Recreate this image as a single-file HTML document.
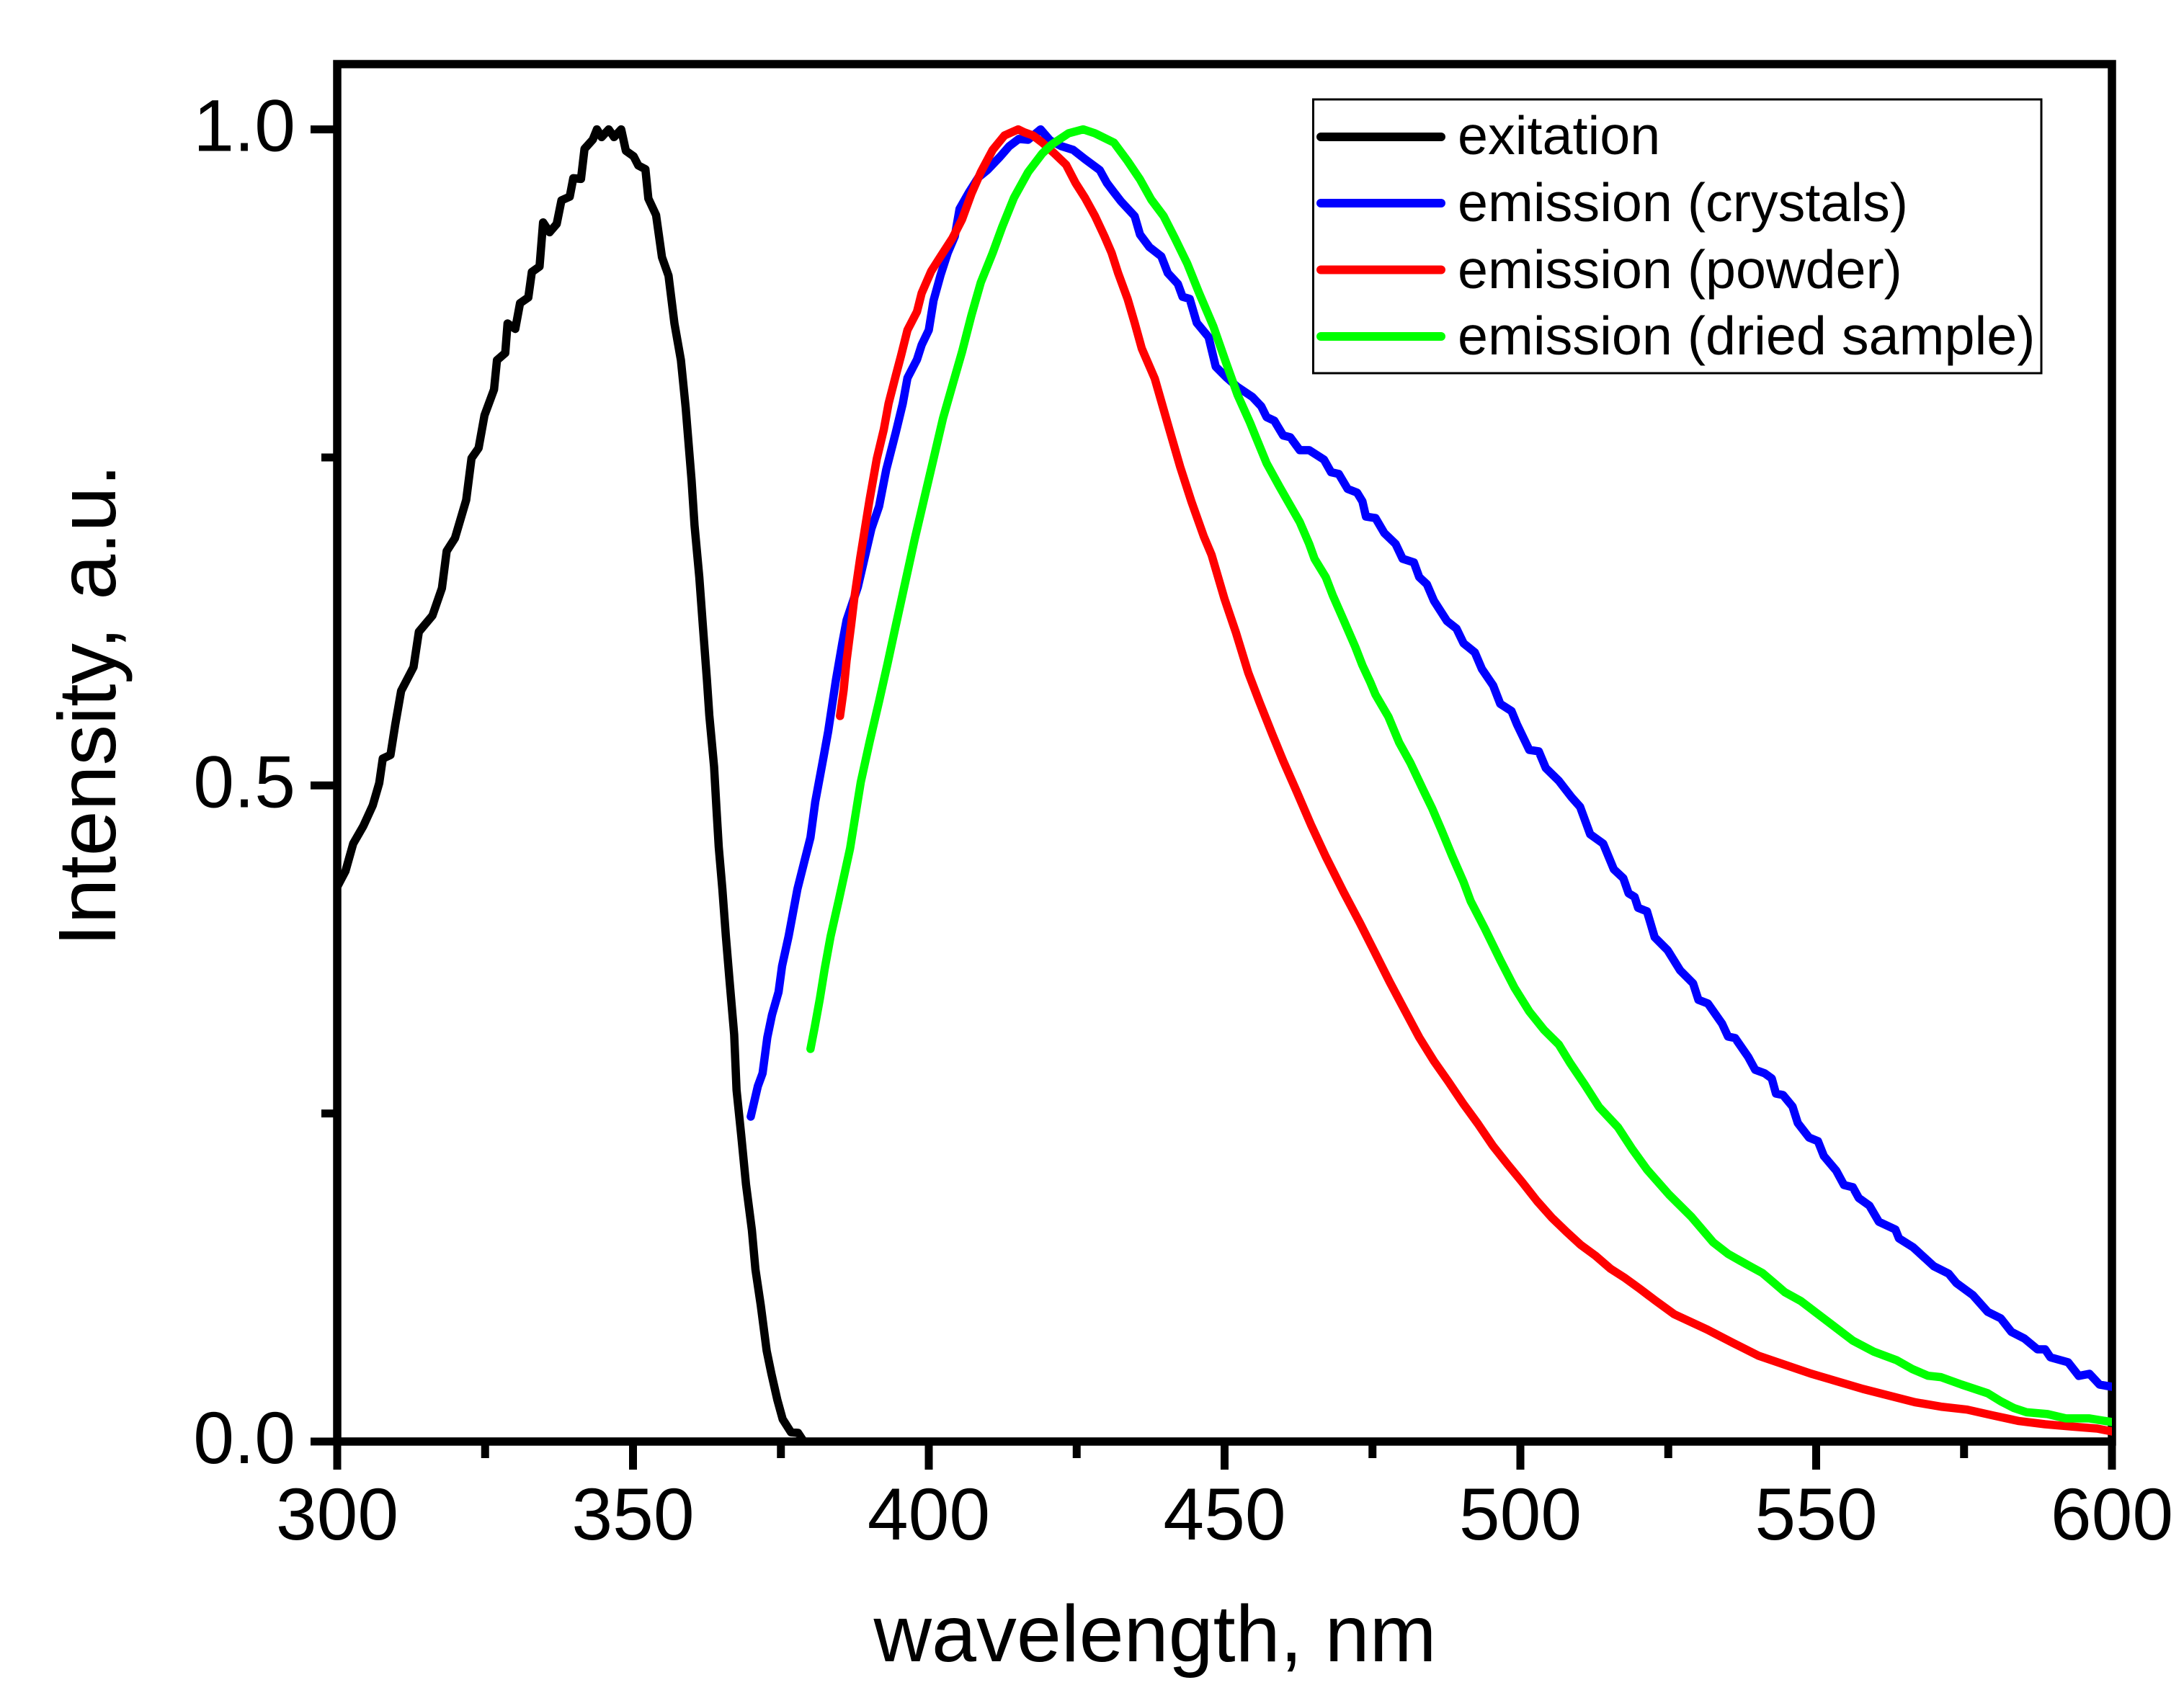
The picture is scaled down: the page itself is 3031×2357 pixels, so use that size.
<!DOCTYPE html>
<html>
<head>
<meta charset="utf-8">
<title>Excitation and emission spectra</title>
<style>
html,body{margin:0;padding:0;background:#fff;}
svg{display:block;}
text{font-family:"Liberation Sans",sans-serif;fill:#000;}
</style>
</head>
<body>
<svg id="chart" xmlns="http://www.w3.org/2000/svg" width="3031" height="2357" viewBox="0 0 3031 2357">
  <rect x="0" y="0" width="3031" height="2357" fill="#fff"/>
  <defs><clipPath id="plot-clip"><rect x="462" y="83" width="2469" height="1924"/></clipPath></defs>
  <g id="ticks"></g>
  <g id="tick-labels"></g>
  <rect x="468" y="89" width="2463" height="1912" fill="none" stroke="#000" stroke-width="11.5"/>
  <g id="series" clip-path="url(#plot-clip)"></g>
  <text font-size="113" word-spacing="6" text-anchor="middle" transform="translate(160 979) rotate(-90)">Intensity, a.u.</text>
  <text font-size="111.5" text-anchor="middle" x="1603" y="2306">wavelength, nm</text>
  <g>
    <rect x="1822.5" y="138" width="1010.5" height="380" fill="#fff" stroke="#000" stroke-width="3"/>
    <line x1="1833" x2="2000" y1="190" y2="190" stroke="#000" stroke-width="12" stroke-linecap="round"/>
    <line x1="1833" x2="2000" y1="282" y2="282" stroke="#0000ff" stroke-width="12" stroke-linecap="round"/>
    <line x1="1833" x2="2000" y1="374.5" y2="374.5" stroke="#ff0000" stroke-width="12" stroke-linecap="round"/>
    <line x1="1833" x2="2000" y1="467" y2="467" stroke="#00ff00" stroke-width="12" stroke-linecap="round"/>
    <text font-size="75.5" x="2023" y="214">exitation</text>
    <text font-size="75.5" x="2023" y="307">emission (crystals)</text>
    <text font-size="75.5" x="2023" y="400">emission (powder)</text>
    <text font-size="75.5" x="2023" y="492">emission (dried sample)</text>
  </g>
</svg>
<script>
const xMajorTicks = [300, 350, 400, 450, 500, 550, 600];
const xMinorTicks = [325, 375, 425, 475, 525, 575];
const yMajorTicks = [0, 0.5, 1];
const yMinorTicks = [0.25, 0.75];
const yTickText = ["0.0", "0.5", "1.0"];

const exitationWl = [300.1,301.4,302.7,304.4,306.0,307.1,307.7,309.0,309.8,310.8,312.9,313.8,316.1,317.7,318.5,319.9,321.8,322.7,323.9,324.9,326.5,327.0,328.4,328.8,330.1,330.9,332.3,332.9,334.2,334.8,335.9,337.1,337.9,339.3,339.9,341.2,341.8,343.2,343.9,344.7,345.9,346.8,348.0,348.8,350.1,350.9,352.1,352.6,353.9,354.9,356.0,357.0,358.1,358.9,359.9,360.4,361.2,361.8,362.5,362.9,363.7,364.1,364.5,365.1,365.7,366.3,367.1,367.5,368.3,369.1,370.1,370.7,371.6,372.6,373.4,374.4,375.3,376.7,377.9,378.8];
const exitationI = [.4236,.4348,.4557,.4689,.4848,.5018,.5205,.5232,.5463,.5721,.5902,.6171,.6295,.6503,.6786,.6885,.7176,.7494,.7571,.7821,.8017,.8241,.8296,.8521,.8479,.8675,.8719,.8913,.8955,.9291,.9216,.9279,.9459,.9487,.9628,.9622,.9852,.9922,1.0,.9941,1.0,.9941,1.0,.9837,.9795,.9725,.9697,.9473,.9347,.9026,.8885,.8521,.8241,.7879,.7324,.6981,.6588,.6220,.5803,.5534,.5144,.4826,.4530,.4211,.3849,.3525,.3102,.2679,.2333,.1960,.1611,.1312,.1038,.0692,.0516,.0318,.0170,.0071,.0066,.0005];

const crystalsWl = [369.9,371.1,371.9,372.7,373.5,374.6,375.2,376.3,377.8,378.9,380.0,380.8,382.2,383.0,384.3,385.4,386.1,388.0,390.3,391.6,392.8,394.4,395.6,396.4,398.0,398.8,400.0,400.8,402.0,403.2,404.4,405.2,406.8,408.4,409.9,412.0,413.6,415.2,416.8,418.9,420.5,422.4,424.4,426.4,428.9,430.1,431.3,432.5,434.8,435.7,437.3,439.3,440.4,442.1,442.9,444.1,445.3,447.3,448.5,450.3,452.1,454.7,456.2,457.1,458.4,459.9,461.1,462.7,464.3,466.8,468.0,469.3,470.8,472.4,473.3,473.9,475.5,477.0,478.9,480.1,482.0,482.9,484.2,485.4,487.6,489.2,490.4,492.3,493.5,495.4,496.6,498.5,499.4,501.5,503.1,504.3,506.5,508.7,510.1,511.8,514.0,515.8,517.4,518.3,519.3,519.9,521.4,522.7,524.9,527.0,529.2,530.1,531.7,534.1,535.1,536.3,538.5,539.7,541.3,542.5,543.2,544.4,546.0,546.9,548.8,550.3,551.3,553.4,554.7,556.2,557.2,559.0,560.6,563.4,564.0,566.4,569.9,572.4,573.7,576.5,579.0,581.2,583.0,585.2,587.4,588.7,589.6,592.6,594.4,596.2,597.9,600.0];
const crystalsI = [.2476,.2707,.2806,.3080,.3252,.3426,.3625,.3849,.4211,.4409,.4604,.4875,.5216,.5413,.5803,.6089,.6259,.6512,.6958,.7127,.7406,.7686,.7911,.8106,.8246,.8358,.8471,.8696,.8891,.9059,.9185,.9394,.9520,.9635,.9690,.9789,.9872,.9927,.9921,1.0,.9916,.9872,.9844,.9773,.9690,.9592,.9520,.9451,.9339,.9199,.9103,.9032,.8905,.8823,.8724,.8708,.8526,.8417,.8192,.8110,.8040,.7961,.7889,.7807,.7780,.7667,.7654,.7555,.7555,.7483,.7387,.7374,.7260,.7232,.7165,.7049,.7038,.6923,.6841,.6728,.6700,.6588,.6533,.6407,.6253,.6196,.6083,.6014,.5888,.5762,.5622,.5567,.5468,.5271,.5260,.5133,.5035,.4908,.4837,.4628,.4557,.4361,.4293,.4178,.4151,.4068,.4041,.3843,.3744,.3591,.3492,.3366,.3338,.3184,.3086,.3075,.2932,.2833,.2806,.2767,.2652,.2641,.2553,.2427,.2317,.2289,.2176,.2064,.1955,.1938,.1856,.1798,.1675,.1616,.1548,.1480,.1336,.1279,.1208,.1115,.0988,.0939,.0836,.0785,.0703,.0703,.0642,.0604,.0500,.0516,.0434,.0417];

const powderWl = [385.0,385.6,386.1,386.9,387.4,388.4,390.0,391.2,392.4,393.2,394.4,395.3,396.4,398.0,398.8,400.4,402.0,404.0,405.6,407.2,408.8,410.8,412.8,415.1,416.1,417.6,419.2,421.2,423.2,424.8,426.4,428.1,429.7,430.9,432.0,433.6,434.8,436.0,438.2,440.7,442.5,444.4,446.5,447.8,450.0,451.9,454.0,455.9,458.1,459.9,462.1,464.6,467.1,470.1,472.9,475.4,477.9,480.4,482.9,485.4,487.8,490.3,492.8,495.3,497.8,500.3,502.8,505.3,507.8,510.2,512.7,515.2,517.7,520.2,522.8,526.0,531.6,536.0,540.3,549.1,557.9,566.7,571.1,575.5,579.9,584.3,588.7,593.1,597.5,600.0];
const powderI = [.5529,.5726,.5951,.6231,.6426,.6734,.7181,.7489,.7714,.7911,.8120,.8274,.8471,.8611,.8752,.8919,.9032,.9171,.9312,.9509,.9674,.9844,.9954,1.0,.9978,.9954,.9899,.9817,.9731,.9592,.9479,.9339,.9185,.9059,.8905,.8708,.8526,.8330,.8101,.7708,.7428,.7163,.6896,.6758,.6420,.6168,.5860,.5636,.5386,.5188,.4963,.4700,.4458,.4189,.3950,.3728,.3503,.3291,.3080,.2899,.2745,.2577,.2423,.2257,.2115,.1977,.1834,.1707,.1598,.1499,.1416,.1318,.1246,.1164,.1075,.0970,.0853,.0750,.0653,.0518,.0401,.0300,.0266,.0243,.0199,.0156,.0132,.0115,.0099,.0077];

const driedWl = [380.0,380.7,381.6,382.4,383.4,384.8,386.7,387.7,388.5,390.0,391.6,393.0,394.2,395.3,397.6,399.2,400.8,402.4,404.0,405.6,407.2,408.8,410.8,412.4,414.4,416.8,419.2,420.8,423.6,426.1,428.1,431.3,433.6,435.7,437.6,439.7,441.6,443.7,445.7,448.1,450.3,452.2,454.3,455.3,457.1,459.3,462.7,464.3,465.2,467.1,468.3,470.2,472.1,473.3,474.6,475.5,477.7,479.5,481.4,483.6,485.1,486.7,488.5,490.4,491.6,494.0,496.6,499.0,501.5,504.0,506.5,508.4,510.9,513.3,516.5,518.9,521.4,525.1,528.9,532.6,535.1,538.2,540.9,542.5,544.7,547.4,551.8,556.2,559.7,563.6,566.3,568.9,571.1,574.6,579.0,581.2,583.4,585.6,589.1,592.2,596.2,600.0];
const driedI = [.2992,.3153,.3377,.3602,.3849,.4129,.4521,.4801,.5025,.5333,.5641,.5922,.6174,.6400,.6874,.7181,.7490,.7798,.8050,.8302,.8582,.8834,.9059,.9256,.9479,.9675,.9817,.9885,.9970,1.0,.9970,.9899,.9759,.9619,.9465,.9339,.9171,.8976,.8752,.8499,.8214,.7975,.7765,.7654,.7456,.7275,.7008,.6841,.6728,.6588,.6448,.6253,.6056,.5916,.5790,.5693,.5523,.5328,.5173,.4963,.4824,.4656,.4459,.4263,.4118,.3909,.3669,.3459,.3278,.3137,.3025,.2885,.2718,.2549,.2395,.2229,.2073,.1883,.1713,.1518,.1430,.1351,.1285,.1224,.1138,.1071,.0920,.0769,.0686,.0620,.0551,.0501,.0491,.0434,.0368,.0307,.0256,.0223,.0209,.0176,.0176,.0148];

const NS = 'http://www.w3.org/2000/svg';
function xScale(nm) { return 468 + (nm - 300) * (2931 - 468) / 300; }
function yScale(v) { return 2001 - v * 1821.4; }
function linePath(wl, vals) {
  return wl.map(function (w, i) {
    return (i ? 'L' : 'M') + xScale(w).toFixed(1) + ' ' + yScale(vals[i]).toFixed(1);
  }).join('');
}
function makeTick(x1, y1, x2, y2) {
  const t = document.createElementNS(NS, 'line');
  t.setAttribute('x1', x1); t.setAttribute('y1', y1);
  t.setAttribute('x2', x2); t.setAttribute('y2', y2);
  t.setAttribute('stroke', '#000');
  t.setAttribute('stroke-width', '11');
  return t;
}
function makeLabel(str, x, y, anchor) {
  const t = document.createElementNS(NS, 'text');
  t.setAttribute('x', x); t.setAttribute('y', y);
  t.setAttribute('font-size', '102');
  t.setAttribute('text-anchor', anchor);
  t.textContent = str;
  return t;
}
const tickGroup = document.getElementById('ticks');
const labelGroup = document.getElementById('tick-labels');
xMajorTicks.forEach(function (v) {
  const t = makeTick(xScale(v), 2001, xScale(v), 2040);
  
  
  tickGroup.appendChild(t);
  const l = makeLabel(String(v), xScale(v), 2137, 'middle');
  
  
  labelGroup.appendChild(l);
});
xMinorTicks.forEach(function (v) {
  const t = makeTick(xScale(v), 2001, xScale(v), 2024);
  
  
  tickGroup.appendChild(t);
});
yMajorTicks.forEach(function (v, i) {
  const t = makeTick(431, yScale(v), 468, yScale(v));
  
  
  tickGroup.appendChild(t);
  const l = makeLabel(yTickText[i], 410, yScale(v) + 30, 'end');
  
  
  labelGroup.appendChild(l);
});
yMinorTicks.forEach(function (v) {
  const t = makeTick(446, yScale(v), 468, yScale(v));
  
  
  tickGroup.appendChild(t);
});
const seriesGroup = document.getElementById('series');
function addSeries(wl, vals, color, name) {
  const p = document.createElementNS(NS, 'path');
  p.setAttribute('d', linePath(wl, vals));
  p.setAttribute('fill', 'none');
  p.setAttribute('stroke', color);
  p.setAttribute('stroke-width', '11.5');
  p.setAttribute('stroke-linejoin', 'round');
  p.setAttribute('stroke-linecap', 'round');
  
  
  seriesGroup.appendChild(p);
}
addSeries(exitationWl, exitationI, '#000000', 'series-exitation');
addSeries(crystalsWl, crystalsI, '#0000ff', 'series-emission-crystals');
addSeries(powderWl, powderI, '#ff0000', 'series-emission-powder');
addSeries(driedWl, driedI, '#00ff00', 'series-emission-dried-sample');
</script>
</body>
</html>
